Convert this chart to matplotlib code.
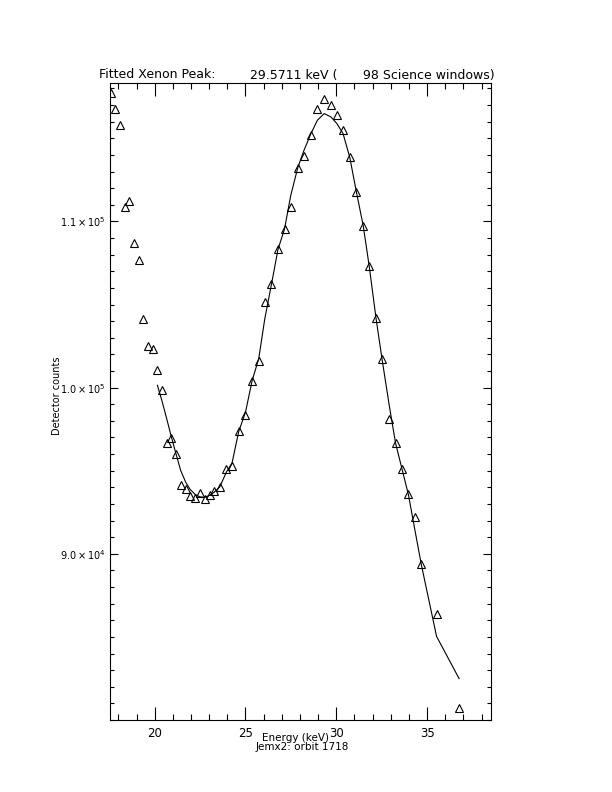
import matplotlib
matplotlib.use("Agg")
import matplotlib.pyplot as plt
from matplotlib.ticker import MultipleLocator, FixedLocator, FixedFormatter

energy = [17.60, 17.80, 18.07, 18.35, 18.59, 18.84, 19.12, 19.36, 19.63, 19.91,
          20.15, 20.40, 20.68, 20.92, 21.17, 21.43, 21.71, 21.95, 22.22, 22.48,
          22.75, 23.03, 23.27, 23.58, 23.95, 24.26, 24.63, 25.00, 25.36, 25.73,
          26.06, 26.43, 26.79, 27.15, 27.49, 27.88, 28.21, 28.58, 28.96, 29.33,
          29.70, 30.03, 30.37, 30.74, 31.11, 31.48, 31.81, 32.19, 32.52, 32.91,
          33.26, 33.61, 33.97, 34.32, 34.69, 35.52, 36.76]
counts = [117740, 116750, 115790, 110870, 111230, 108730, 107660, 104110, 102490, 102310,
          101040, 99840, 96670, 96950, 95990, 94120, 93920, 93460, 93340, 93660,
          93310, 93520, 93760, 94020, 95080, 95260, 97370, 98330, 100400, 101600,
          105130, 106220, 108320, 109550, 110870, 113240, 113920, 115230, 116750, 117390,
          117030, 116430, 115480, 113860, 111750, 109750, 107320, 104190, 101700, 98090,
          96670, 95130, 93570, 92210, 89370, 86360, 80740]
fit_counts = [100140, 99210, 98050, 97030, 96030, 95020, 94300, 93880, 93580, 93430,
              93400, 93520, 93700, 94020, 94920, 95470, 97370, 98520, 100400, 101750,
              104130, 106220, 108320, 109550, 111560, 113240, 114250, 115230, 116090, 116490,
              116290, 115890, 115290, 113860, 111750, 109750, 107320, 104150, 101700, 98960,
              96670, 95130, 93560, 91470, 89300, 85030, 82490]
fit_energy = energy[10:]

ytick_vals = [90000, 100000, 110000]
ytick_labels = [r"$9.0\times10^{4}$", r"$1.0\times10^{5}$", r"$1.1\times10^{5}$"]
xtick_vals = [20, 25, 30, 35]

title_left = "Fitted Xenon Peak:"
title_mid = "29.5711 keV ("
title_right = "98 Science windows)"
ylabel = "Detector counts"
xlabel = "Energy (keV)"
sublabel = "Jemx2: orbit 1718"

plt.rcParams['mathtext.fontset'] = 'dejavusans'
W, H = 612, 792
fig = plt.figure(figsize=(6.12, 7.92), dpi=100)
ax = fig.add_axes([110 / W, 1 - 720 / H, (490.7 - 110) / W, (720 - 83) / H])

ax.plot(energy, counts, linestyle='none', marker='^', markersize=5.5,
        markerfacecolor='none', markeredgecolor='black', markeredgewidth=0.8)
ax.plot(fit_energy, fit_counts, color='black', linewidth=0.8)

ax.set_xlim(17.54, 38.5)
ax.set_ylim(80000, 118330)

ax.xaxis.set_major_locator(FixedLocator(xtick_vals))
ax.xaxis.set_minor_locator(MultipleLocator(1))
ax.yaxis.set_major_locator(FixedLocator(ytick_vals))
ax.yaxis.set_major_formatter(FixedFormatter(ytick_labels))
ax.yaxis.set_minor_locator(MultipleLocator(1000))

ax.tick_params(axis='x', which='major', direction='in', length=9.2, width=0.8,
               top=True, bottom=True, labelsize=8.5, pad=5)
ax.tick_params(axis='x', which='minor', direction='in', length=4.6, width=0.8,
               top=True, bottom=True)
ax.tick_params(axis='y', which='major', direction='in', length=5.5, width=0.8,
               left=True, right=True, labelsize=7, pad=3)
ax.tick_params(axis='y', which='minor', direction='in', length=2.8, width=0.8,
               left=True, right=True)
for s in ax.spines.values():
    s.set_linewidth(0.8)

fs = 9
fig.text(99 / W, 1 - 75 / H, title_left, ha='left', va='center', fontsize=fs)
fig.text(250 / W, 1 - 75 / H, title_mid, ha='left', va='center', fontsize=fs)
fig.text(495 / W, 1 - 75 / H, title_right, ha='right', va='center', fontsize=fs)

fig.text(57 / W, 1 - 396 / H, ylabel, rotation=90, ha='center', va='center', fontsize=7)
fig.text(296 / W, 1 - 738 / H, xlabel, ha='center', va='center', fontsize=7.5)
fig.text(302 / W, 1 - 747 / H, sublabel, ha='center', va='center', fontsize=7.5)

fig.savefig("out.png", dpi=100)
